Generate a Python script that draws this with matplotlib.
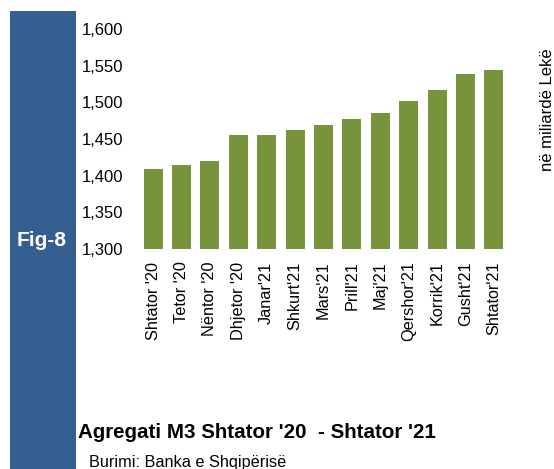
import matplotlib.pyplot as plt
from matplotlib.patches import Rectangle

months = ["Shtator '20", "Tetor '20", "Nëntor '20", "Dhjetor '20", "Janar'21",
          "Shkurt'21", "Mars'21", "Prill'21", "Maj'21", "Qershor'21",
          "Korrik'21", "Gusht'21", "Shtator'21"]
m3_values = [1409, 1414, 1420, 1455, 1455, 1462, 1469, 1477, 1486,
             1502, 1517, 1539, 1544]
y_ticks = [1300, 1350, 1400, 1450, 1500, 1550, 1600]

W, H = 554, 469
plt.rcParams['font.family'] = ['Liberation Sans', 'DejaVu Sans']

fig = plt.figure(figsize=(W / 100, H / 100), dpi=100)

# blue side panel with figure number
fig.patches.append(Rectangle((10 / W, 0), 66 / W, 1 - 11 / H,
                             transform=fig.transFigure, facecolor='#365F91',
                             edgecolor='none', zorder=0))
fig.text(42 / W, 1 - 241 / H, "Fig-8", color='white', fontsize=15,
         fontweight='bold', ha='center', va='center')

ax = fig.add_axes([139 / W, 1 - 249 / H, (508 - 139) / W, 220 / H])
ax.bar(range(len(months)), m3_values, width=0.67, color='#77933C')
ax.set_xlim(-0.5, len(months) - 0.5)
ax.set_ylim(1300, 1600)
ax.set_yticks(y_ticks)
ax.set_yticklabels([f"{v:,}" for v in y_ticks], fontsize=12)
ax.set_xticks(range(len(months)))
ax.set_xticklabels(months, rotation=90, fontsize=11.7)
ax.tick_params(length=0)
ax.tick_params(axis='y', pad=11)
ax.tick_params(axis='x', pad=9)
for s in ax.spines.values():
    s.set_visible(False)

fig.text(548 / W, 1 - 110 / H, "në miliardë Lekë", rotation=90, fontsize=12,
         ha='center', va='center')
fig.text(78 / W, 1 - 433 / H, "Agregati M3 Shtator '20  - Shtator '21",
         fontsize=14.8, fontweight='bold', ha='left', va='center')
fig.text(89 / W, 1 - 462 / H, "Burimi: Banka e Shqipërisë", fontsize=11.7,
         ha='left', va='center')

fig.savefig("out.png", dpi=100)
